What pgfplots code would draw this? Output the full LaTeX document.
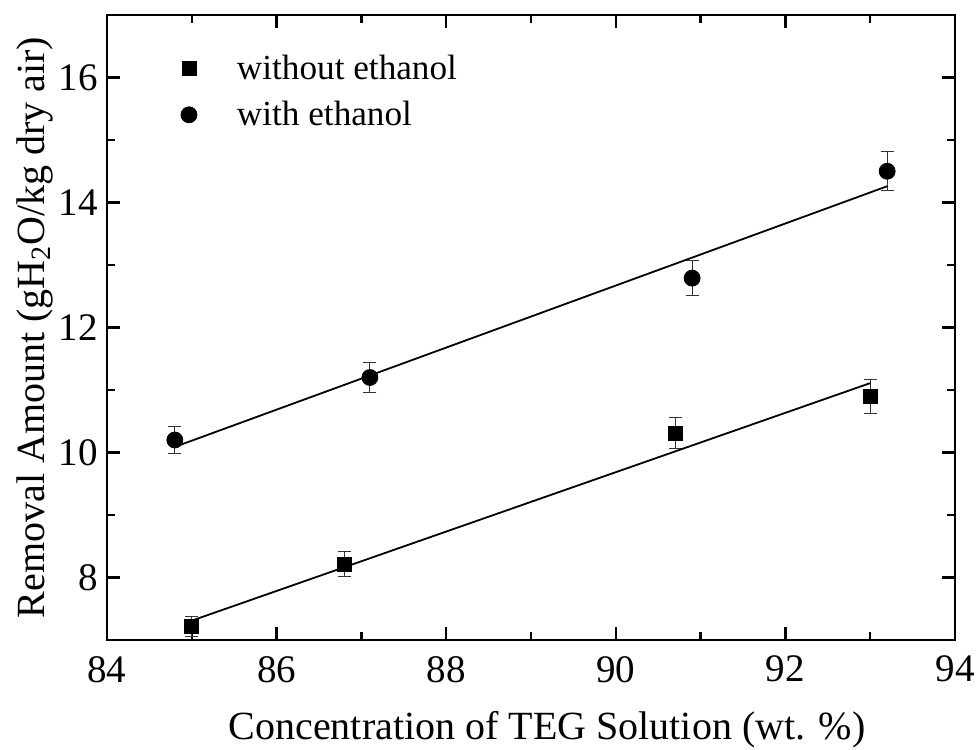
\documentclass[border=0pt]{standalone}
\usepackage{fontspec}
\setmainfont{Liberation Serif}
\usepackage{pgfplots}
\pgfplotsset{compat=1.18}
\begin{document}
\begin{tikzpicture}
\useasboundingbox (-53.5pt,-54.5pt) rectangle (435pt,320pt);
\begin{axis}[
  at={(0pt,0pt)}, anchor=south west,
  scale only axis,
  width=424pt, height=312.5pt,
  xmin=84, xmax=94, ymin=7, ymax=17,
  xtick={84,86,88,90,92,94},
  ytick={8,10,12,14,16},
  minor x tick num=1, minor y tick num=1,
  tick align=inside,
  xtick pos=both, ytick pos=both,
  major tick length=6.5pt, minor tick length=4pt,
  every tick/.style={black, line width=1.2pt},
  axis line style={line width=1.4pt},
  /pgf/number format/assume math mode=true,
  ticklabel style={font=\fontsize{19.5}{22}\selectfont},
  xticklabel style={yshift=-4.5pt},
  yticklabel style={xshift=-1pt},
  ylabel={Removal Amount (gH\textsubscript{2}O/kg dry air)},
  every axis y label/.style={at={(axis description cs:-0.085,0.5)}, anchor=center, rotate=90, font=\fontsize{20}{24}\selectfont},
  legend style={draw=none, fill=none, at={(axis description cs:0.075,0.950)}, anchor=north west,
    font=\fontsize{17.6}{21}\selectfont, row sep=5.5pt,
    legend cell align=left},
]
\addplot[only marks, mark=square*, mark size=3.5pt, black,
  legend image code/.code={\draw plot coordinates {(6pt,0pt)}; \path[draw=none,fill=none] (0pt,0pt) rectangle (28pt,0.1pt);},
  error bars/.cd, y dir=both, y explicit,
  error bar style={line width=0.6pt, black!80},
  error mark options={rotate=90, mark size=3.3pt, line width=0.6pt, black!80}]
  coordinates {
  (85.0,7.21) +- (0,0.16)
  (86.8,8.21) +- (0,0.20)
  (90.7,10.31) +- (0,0.25)
  (93.0,10.90) +- (0,0.27)
};
\addlegendentry{without ethanol}
\addplot[only marks, mark=*, mark size=4pt, black,
  legend image code/.code={\draw plot coordinates {(6pt,0pt)}; \path[draw=none,fill=none] (0pt,0pt) rectangle (28pt,0.1pt);},
  error bars/.cd, y dir=both, y explicit,
  error bar style={line width=0.6pt, black!80},
  error mark options={rotate=90, mark size=3.3pt, line width=0.6pt, black!80}]
  coordinates {
  (84.8,10.20) +- (0,0.22)
  (87.1,11.20) +- (0,0.24)
  (90.9,12.79) +- (0,0.28)
  (93.2,14.50) +- (0,0.31)
};
\addlegendentry{with ethanol}
\addplot[black, line width=0.9pt, no marks, forget plot] coordinates {(85,7.31) (93,11.11)};
\addplot[black, line width=0.9pt, no marks, forget plot] coordinates {(84.8,10.09) (93.2,14.26)};
\end{axis}
\node[font=\fontsize{20}{24}\selectfont, anchor=base, inner sep=0pt] at (220pt,-49.8pt) {Concentration of TEG Solution (wt. \%)};
\end{tikzpicture}
\end{document}
